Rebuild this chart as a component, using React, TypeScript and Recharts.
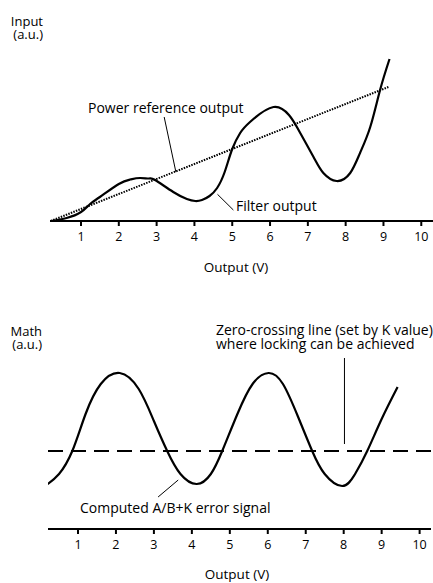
import React from "react";
import { LineChart, Line, XAxis, YAxis, ReferenceLine } from "recharts";

// top panel: filter output vs power reference (a.u.)
const filterX = [0.2, 0.62, 1.0, 1.24, 1.5, 2.0, 2.3, 2.56, 2.8, 2.96, 3.44, 3.8, 4.02, 4.2, 4.4, 4.6, 4.8, 5.0, 5.21, 5.47, 6.09, 6.5, 6.71, 7.15, 7.41, 7.76, 8.12, 8.38, 8.65, 8.91, 9.16];
const filterY = [0, 3, 9, 17, 24, 37, 41.5, 43, 42.5, 41, 29, 22, 20, 21, 25, 33, 49, 72, 88, 99, 114, 106, 94, 64, 48, 40, 48, 68, 94, 131, 162];
const refX = [0.2, 9.13];
const refY = [0, 134];

// bottom panel: computed error signal
const errX = [0.2, 0.5, 0.85, 1.2, 1.6, 2.1, 2.6, 3.0, 3.35, 3.7, 4.13, 4.5, 4.8, 5.2, 5.6, 6.02, 6.4, 6.8, 7.17, 7.5, 7.96, 8.3, 8.62, 9.0, 9.42];
const errY = [45, 55, 78, 115, 145, 156, 140, 108, 78, 55, 45, 55, 78, 115, 145, 156, 145, 112, 78, 55, 43, 55, 78, 110, 142];
const kLevel = 78;

const xTicks = [1, 2, 3, 4, 5, 6, 7, 8, 9, 10];

const FONT = "'Open Sans', Lato, sans-serif";
const axisStyle = { stroke: "#000", strokeWidth: 2 };
const tickStyle = { fontSize: 12.5, fill: "#000", fontFamily: FONT };

const filterData = filterX.map((x, i) => ({ x, y: filterY[i] }));
const refData = refX.map((x, i) => ({ x, y: refY[i] }));
const errData = errX.map((x, i) => ({ x, y: errY[i] }));

export default function App() {
  return (
    <div style={{ position: "absolute", left: 0, top: 0, width: 433, height: 583, background: "#fff", fontFamily: FONT }}>
      <div style={{ position: "absolute", left: 0, top: 0 }}>
        <LineChart width={433} height={285} margin={{ top: 20, right: 0, left: 50, bottom: 34 }}>
          <XAxis
            type="number"
            dataKey="x"
            domain={[0.18, 10.31]}
            ticks={xTicks}
            allowDataOverflow
            axisLine={axisStyle}
            tickLine={axisStyle}
            tickSize={5}
            tickMargin={6}
            tick={tickStyle}
            height={30}
          />
          <YAxis type="number" domain={[0, 201]} width={0} tick={false} tickLine={false} axisLine={axisStyle} />
          <Line data={refData} dataKey="y" type="linear" stroke="#000" strokeWidth={2} strokeDasharray="1.5 1.2" dot={false} isAnimationActive={false} />
          <Line data={filterData} dataKey="y" type="natural" stroke="#000" strokeWidth={2.2} dot={false} isAnimationActive={false} />
          <ReferenceLine segment={[{ x: 3.2, y: 104 }, { x: 3.51, y: 49 }]} stroke="#000" strokeWidth={1} ifOverflow="visible" />
          <ReferenceLine segment={[{ x: 4.61, y: 26.7 }, { x: 5.03, y: 11 }]} stroke="#000" strokeWidth={1} ifOverflow="visible" />
        </LineChart>
      </div>
      <div style={{ position: "absolute", left: 0, top: 290 }}>
        <LineChart width={433} height={293} margin={{ top: 37, right: 2, left: 48, bottom: 24 }}>
          <XAxis
            type="number"
            dataKey="x"
            domain={[0.21, 10.3]}
            ticks={xTicks}
            allowDataOverflow
            axisLine={axisStyle}
            tickLine={axisStyle}
            tickSize={5}
            tickMargin={6}
            tick={tickStyle}
            height={30}
          />
          <YAxis type="number" domain={[0, 202]} width={0} tick={false} tickLine={false} axisLine={axisStyle} />
          <ReferenceLine y={kLevel} stroke="#000" strokeWidth={2} strokeDasharray="15 8" />
          <Line data={errData} dataKey="y" type="natural" stroke="#000" strokeWidth={2.2} dot={false} isAnimationActive={false} />
          <ReferenceLine segment={[{ x: 8.02, y: 171 }, { x: 8.02, y: 85 }]} stroke="#000" strokeWidth={1} ifOverflow="visible" />
          <ReferenceLine segment={[{ x: 3.11, y: 32 }, { x: 3.64, y: 49 }]} stroke="#000" strokeWidth={1} ifOverflow="visible" />
        </LineChart>
      </div>
      <svg width={433} height={583} style={{ position: "absolute", left: 0, top: 0, pointerEvents: "none" }} fontFamily={FONT} fontSize={14} fill="#000">
        <text x={43} y={26} textAnchor="end" fontSize={13}>Input</text>
        <text x={43} y={38.5} textAnchor="end" fontSize={13}>(a.u.)</text>
        <text x={88} y={113}>Power reference output</text>
        <text x={236} y={211}>Filter output</text>
        <text x={236} y={272} textAnchor="middle" fontSize={13.5}>Output (V)</text>
        <text x={42} y={335.5} textAnchor="end" fontSize={13}>Math</text>
        <text x={42} y={348.5} textAnchor="end" fontSize={13}>(a.u.)</text>
        <text x={216} y={335}>Zero-crossing line (set by K value)</text>
        <text x={216} y={349}>where locking can be achieved</text>
        <text x={80} y={513}>Computed A/B+K error signal</text>
        <text x={237} y={579} textAnchor="middle" fontSize={13.5}>Output (V)</text>
      </svg>
    </div>
  );
}
